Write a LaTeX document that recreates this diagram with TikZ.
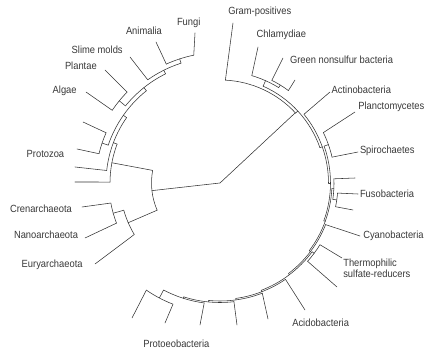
\documentclass[tikz,border=0pt]{standalone}
\usepackage{fontspec}
\setmainfont[FakeStretch=0.9]{Liberation Sans}
\usetikzlibrary{calc}
\tikzset{
  br/.style={line width=0.55pt, draw=black!80, line cap=round, line join=round},
  lab/.style={inner sep=0pt, outer sep=0pt, text=black!78, font=\fontsize{10.4}{11.3}\selectfont, anchor=base west, align=left}
}
\newcommand\Arc[3]{\draw[br] ($(C)+(#2:#1)$) arc[start angle=#2,end angle=#3,radius=#1];}
\newcommand\Rung[3]{\draw[br] ($(C)+(#1:#2)$) -- ($(C)+(#1:#3)$);}
\newcommand\Leaf[3]{\draw[br] ($(C)+(#1:#2)$) -- (#3);}
\begin{document}
\begin{tikzpicture}[x=1pt,y=1pt]
\useasboundingbox (0,0) rectangle (429,351);
\coordinate (C) at (220,168);
% ---------- labels ----------
\node[lab] (lFungi) at (177,325) {Fungi};
\node[lab] (lAnim) at (126,316.7) {Animalia};
\node[lab] (lSlime) at (71.7,297.7) {Slime molds};
\node[lab] (lPlant) at (65,281.7) {Plantae};
\node[lab] (lAlgae) at (52.7,257.7) {Algae};
\node[lab] (lProto) at (26.7,193.7) {Protozoa};
\node[lab] (lGram) at (228.3,336.7) {Gram-positives};
\node[lab] (lChla) at (256.7,313.7) {Chlamydiae};
\node[lab] (lGreen) at (290,287) {Green nonsulfur bacteria};
\node[lab] (lActi) at (331.7,257.7) {Actinobacteria};
\node[lab] (lPlan) at (358.3,241) {Planctomycetes};
\node[lab] (lSpir) at (360,197) {Spirochaetes};
\node[lab] (lFuso) at (360,153.3) {Fusobacteria};
\node[lab] (lCyan) at (363.3,112) {Cyanobacteria};
\node[lab] (lTher) at (343.3,73.3) {Thermophilic\\sulfate-reducers};
\node[lab] (lAcid) at (292.3,24.3) {Acidobacteria};
\node[lab] (lProt) at (143.3,3.7) {Protoeobacteria};
\node[lab] (lCren) at (10,138.3) {Crenarchaeota};
\node[lab] (lNano) at (14,112) {Nanoarchaeota};
\node[lab] (lEury) at (21.7,83.3) {Euryarchaeota};
% ---------- leaf tips ----------
\coordinate (tFungi) at (195,318);
\coordinate (tAnim) at (156,309);
\coordinate (tSlime) at (130,294);
\coordinate (tPlant) at (105,281);
\coordinate (tAlgae) at (86,259);
\coordinate (tE4) at (83,229);
\coordinate (tProto) at (77,202);
\coordinate (tE2) at (75,184);
\coordinate (tE1) at (75,169);
\coordinate (tGram) at (233,328);
\coordinate (tChla) at (258,304);
\coordinate (tGreen) at (283,293);
\coordinate (tU1) at (295,271);
\coordinate (tActi) at (330,259);
\coordinate (tPlan) at (355,239);
\coordinate (tSpir) at (358,199);
\coordinate (tU2) at (355,173);
\coordinate (tFuso) at (358,157);
\coordinate (tU3) at (353,141);
\coordinate (tCyan) at (360,115);
\coordinate (tU4) at (342,93);
\coordinate (tTher) at (337,64);
\coordinate (tAcid) at (305,41);
\coordinate (tU5) at (268,32);
\coordinate (tU6) at (237,26);
\coordinate (tU7) at (200,26);
\coordinate (tU8) at (165,28);
\coordinate (tU9) at (132,33);
\coordinate (tCren) at (82,144);
\coordinate (tNano) at (85,113);
\coordinate (tEury) at (95,87);
% ---------- root ----------
\Rung{186.4}{0}{68.5}
\Rung{43}{0}{103}
% ---------- archaea + eukarya ----------
\Arc{68.5}{169.4}{203.4}
\Rung{169.4}{68.5}{110}
\Rung{203.4}{68.5}{100}
\Arc{100}{195.8}{211}
\Leaf{211}{100}{tEury}
\Rung{195.8}{100}{111}
\Arc{111}{190.4}{201.2}
\Leaf{190.4}{111}{tCren}
\Leaf{201.2}{111}{tNano}
% eukaryotes
\Arc{110}{159.3}{179.5}
\Leaf{179.5}{110}{tE1}
\Rung{159.3}{110}{114}
\Arc{114}{145}{173.7}
\Leaf{173.7}{114}{tE2}
\Rung{145}{114}{118}
\Arc{118}{128.6}{161.3}
\Rung{161.3}{118}{124.5}
\Arc{124.5}{156.2}{166.4}
\Leaf{166.4}{124.5}{tProto}
\Leaf{156.2}{124.5}{tE4}
\Rung{128.6}{118}{122}
\Arc{122}{116.5}{140.8}
\Rung{140.8}{122}{130}
\Arc{130}{135.6}{146}
\Leaf{146}{130}{tAlgae}
\Leaf{135.6}{130}{tPlant}
\Rung{116.5}{122}{126}
\Arc{126}{108}{125}
\Leaf{125}{126}{tSlime}
\Rung{108}{126}{130.5}
\Arc{130.5}{101.6}{114.3}
\Leaf{114.3}{130.5}{tAnim}
\Leaf{101.6}{130.5}{tFungi}
% ---------- bacteria ----------
\Arc{103}{87}{42.75}
\Leaf{87}{103}{tGram}
\Rung{42.75}{103}{106}
\Arc{106}{66}{19.5}
\Rung{66}{106}{112}
\Arc{112}{73.5}{58.4}
\Leaf{73.5}{112}{tChla}
\Rung{58.4}{112}{115}
\Arc{115}{63.2}{53.5}
\Leaf{63.2}{115}{tGreen}
\Leaf{53.5}{115}{tU1}
\Rung{19.5}{106}{108.5}
\Arc{108.5}{39.3}{-0.25}
\Leaf{39.3}{108.5}{tActi}
\Rung{-0.25}{108.5}{110.5}
\Arc{110.5}{19.5}{-20}
\Rung{19.5}{110.5}{115}
\Arc{115}{26}{13}
\Leaf{26}{115}{tPlan}
\Leaf{13}{115}{tSpir}
\Rung{-20}{110.5}{112}
\Arc{112}{-2.85}{-37.2}
\Rung{-2.85}{112}{114}
\Arc{114}{2.1}{-8.25}
\Leaf{2.1}{114}{tU2}
\Rung{-8.25}{114}{118}
\Arc{118}{-4.9}{-11.6}
\Leaf{-4.9}{118}{tFuso}
\Leaf{-11.6}{118}{tU3}
\Rung{-37.2}{112}{113.5}
\Arc{113.5}{-21.5}{-52.9}
\Leaf{-21.5}{113.5}{tCyan}
\Rung{-52.9}{113.5}{115}
\Arc{115}{-36.75}{-69}
\Rung{-36.75}{115}{117.5}
\Arc{117.5}{-31.7}{-41.8}
\Leaf{-31.7}{117.5}{tU4}
\Leaf{-41.8}{117.5}{tTher}
\Rung{-69}{115}{116.5}
\Arc{116.5}{-55.8}{-82.2}
\Leaf{-55.8}{116.5}{tAcid}
\Rung{-82.2}{116.5}{118}
\Arc{118}{-69}{-95.5}
\Leaf{-69}{118}{tU5}
\Rung{-95.5}{118}{119.5}
\Arc{119.5}{-83.3}{-107.65}
\Leaf{-83.3}{119.5}{tU6}
\Rung{-107.65}{119.5}{121}
\Arc{121}{-97.5}{-117.8}
\Leaf{-97.5}{121}{tU7}
\Rung{-117.8}{121}{130}
\Arc{130}{-111.2}{-124.5}
\Leaf{-111.2}{130}{tU8}
\Leaf{-124.5}{130}{tU9}
\end{tikzpicture}
\end{document}
